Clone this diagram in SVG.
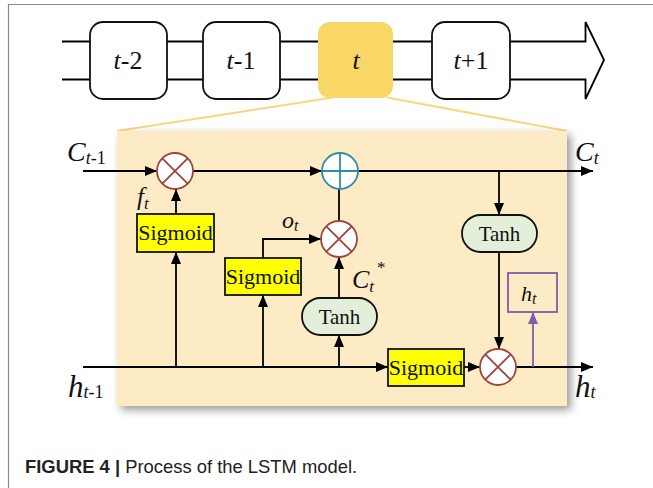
<svg xmlns="http://www.w3.org/2000/svg" width="653" height="488" viewBox="0 0 653 488">
<style>
.ln{fill:none;stroke:#000;stroke-width:1.8}
.arr{marker-end:url(#ah)}
.box{fill:#fff;stroke:#111;stroke-width:1.8}
.sig{fill:#ffff00;stroke:#111;stroke-width:1.8}
.tanh{fill:#e3efd9;stroke:#111;stroke-width:1.8}
.mul{fill:#fff;stroke:#a0443e;stroke-width:1.8}
.add{fill:#fff;stroke:#2f8ca6;stroke-width:1.8}
.serif{font-family:"Liberation Serif","Times New Roman",serif;fill:#111}
.it{font-style:italic}
.lbl{font-size:22px;text-anchor:middle}
</style>
<defs>
<marker id="ah" viewBox="0 0 12 10" refX="12" refY="5" markerWidth="12" markerHeight="10" markerUnits="userSpaceOnUse" orient="auto"><path d="M0,0 L12,5 L0,10 z" fill="#000"/></marker>
<marker id="ahp" viewBox="0 0 12 10" refX="12" refY="5" markerWidth="12" markerHeight="10" markerUnits="userSpaceOnUse" orient="auto"><path d="M0,0 L12,5 L0,10 z" fill="#7d5ca8"/></marker>
<filter id="sh" x="-10%" y="-10%" width="130%" height="130%"><feGaussianBlur stdDeviation="4"/></filter>
</defs>
<rect width="653" height="488" fill="#fff"/>
<!-- frame -->
<path d="M8.5,488 V4.5 H653" fill="none" stroke="#8a8a8a" stroke-width="1.2"/>
<!-- top timeline -->
<g id="timeline">
<path class="ln" d="M62,41.5 H585.5 V22 L604,60 L585.5,99 V79.5 H62"/>
</g>
<g id="node-t-2"><rect class="box" x="90" y="22" width="77" height="77" rx="13"/><text class="serif" x="128" y="69" font-size="26" text-anchor="middle"><tspan class="it">t</tspan>-2</text></g>
<g id="node-t-1"><rect class="box" x="203" y="22" width="77" height="77" rx="13"/><text class="serif" x="241" y="69" font-size="26" text-anchor="middle"><tspan class="it">t</tspan>-1</text></g>
<g id="node-t"><rect x="318" y="22" width="75" height="76" rx="12" fill="#f9d766"/><text class="serif it" x="356" y="69" font-size="26" text-anchor="middle">t</text></g>
<g id="node-t+1"><rect class="box" x="432" y="22" width="78" height="77" rx="13"/><text class="serif" x="471" y="69" font-size="26" text-anchor="middle"><tspan class="it">t</tspan>+1</text></g>
<!-- zoom lines -->
<path d="M333,97.5 L117,131 M387,97.5 L567,131" stroke="#f8d680" stroke-width="2" fill="none"/>
<!-- panel -->
<g id="panel">
<rect x="121" y="135" width="450" height="275" fill="#000" opacity="0.4" filter="url(#sh)"/>
<rect x="117" y="131" width="450" height="275" fill="#fdebc6"/>
</g>
<!-- connectors -->
<g id="connectors">
<path class="ln arr" d="M83,171 H157"/>
<path class="ln arr" d="M193.5,171 H322"/>
<path class="ln arr" d="M358,171 H593"/>
<path class="ln arr" d="M499,171 V215"/>
<path class="ln arr" d="M499,252 V349"/>
<path class="ln arr" d="M83,367 H388"/>
<path class="ln arr" d="M464,367 H480"/>
<path class="ln arr" d="M516,367 H593"/>
<path d="M533,367 V312" fill="none" stroke="#7d5ca8" stroke-width="1.8" marker-end="url(#ahp)"/>
<path class="ln arr" d="M176,367 V252"/>
<path class="ln arr" d="M176,214 V189"/>
<path class="ln arr" d="M263,367 V295"/>
<path class="ln arr" d="M263,258 V239 H321"/>
<path class="ln arr" d="M339,367 V335"/>
<path class="ln arr" d="M339,298 V257"/>
<path class="ln" d="M339,221 V189"/>
</g>
<!-- nodes -->
<g id="mul-forget"><circle class="mul" cx="175" cy="171" r="18"/><path d="M162.3,158.3 L187.7,183.7 M187.7,158.3 L162.3,183.7" stroke="#a0443e" stroke-width="1.8"/></g>
<g id="add-cell"><circle class="add" cx="340" cy="171" r="18"/><path d="M322,171 H358 M340,153 V189" stroke="#2f8ca6" stroke-width="1.8"/></g>
<g id="mul-input"><circle class="mul" cx="339" cy="239" r="18"/><path d="M326.3,226.3 L351.7,251.7 M351.7,226.3 L326.3,251.7" stroke="#a0443e" stroke-width="1.8"/></g>
<g id="mul-output"><circle class="mul" cx="498" cy="367" r="18"/><path d="M485.3,354.3 L510.7,379.7 M510.7,354.3 L485.3,379.7" stroke="#a0443e" stroke-width="1.8"/></g>
<g id="sigmoid-f"><rect class="sig" x="137" y="214" width="77" height="38"/><text class="serif lbl" x="175.5" y="240">Sigmoid</text></g>
<g id="sigmoid-o"><rect class="sig" x="225" y="258" width="76" height="37"/><text class="serif lbl" x="263" y="283.5">Sigmoid</text></g>
<g id="sigmoid-h"><rect class="sig" x="388" y="349" width="76" height="37"/><text class="serif lbl" x="426" y="374.5">Sigmoid</text></g>
<g id="tanh-c"><rect class="tanh" x="302" y="298" width="75" height="37" rx="18.5"/><text class="serif" x="339.5" y="323.5" font-size="21" text-anchor="middle">Tanh</text></g>
<g id="tanh-out"><rect class="tanh" x="462" y="215" width="75" height="37" rx="18.5"/><text class="serif" x="499.5" y="240.5" font-size="21" text-anchor="middle">Tanh</text></g>
<g id="ht-box"><rect x="508" y="273" width="49" height="39" fill="none" stroke="#7d5ca8" stroke-width="1.8"/><text class="serif it" x="521" y="301" font-size="22">h<tspan font-size="16" dy="3">t</tspan></text></g>
<!-- labels -->
<g id="labels" class="serif">
<text x="67" y="161" font-size="28" class="it">C<tspan font-size="18" dy="3">t</tspan><tspan font-size="18" font-style="normal">-1</tspan></text>
<text x="575" y="161" font-size="28" class="it">C<tspan font-size="18" dy="3">t</tspan></text>
<text x="68" y="397" font-size="31" class="it">h<tspan font-size="18" dy="1">t</tspan><tspan font-size="18" font-style="normal">-1</tspan></text>
<text x="575" y="397" font-size="31" class="it">h<tspan font-size="18" dy="1">t</tspan></text>
<text x="137" y="205" font-size="25" class="it">f<tspan font-size="17" dy="4">t</tspan></text>
<text x="282" y="228" font-size="24" class="it">o<tspan font-size="16" dy="3">t</tspan></text>
<text x="352" y="288" font-size="26" class="it">C<tspan font-size="17" dy="4">t</tspan><tspan font-size="17" font-style="normal" dx="3" dy="-19">*</tspan></text>
</g>
<!-- caption -->
<text x="25" y="473" font-family="'Liberation Sans',Arial,sans-serif" font-size="18.4" fill="#222"><tspan font-weight="bold">FIGURE 4 | </tspan>Process of the LSTM model.</text>
</svg>
